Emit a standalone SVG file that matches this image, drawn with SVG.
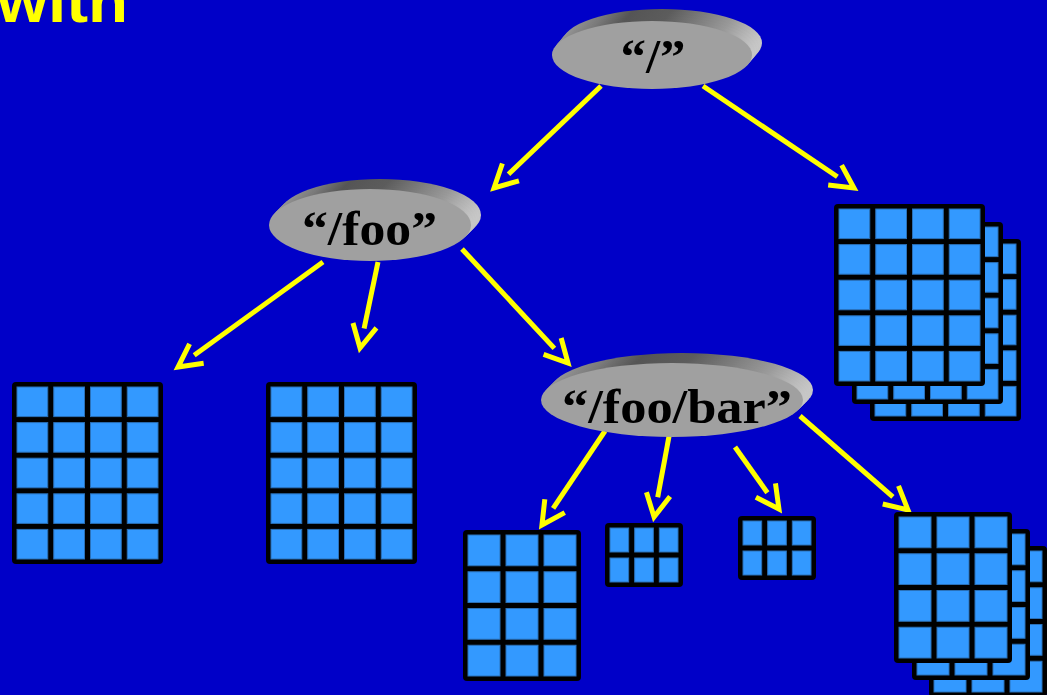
<svg xmlns="http://www.w3.org/2000/svg" xmlns:xlink="http://www.w3.org/1999/xlink" width="1047" height="695" viewBox="0 0 1047 695">
<style>
.frame{fill:#000000}
.cell{fill:#3399FF;stroke:#2a70b8;stroke-width:1}
.face{fill:#A0A0A0}
.rim{fill:url(#rimGrad)}
.lbl{font-family:"Liberation Serif","Times New Roman",serif;font-weight:bold;font-size:48px;fill:#000000;text-anchor:middle}
.conn{fill:none;stroke:#FFFF00;stroke-width:5;marker-end:url(#chev)}
.title{font-family:"Liberation Sans",Arial,sans-serif;font-weight:bold;font-size:62px;fill:#FFFF00}
</style>
<defs>
<linearGradient id="rimGrad" x1="0" y1="0" x2="1" y2="0">
<stop offset="0" stop-color="#9a9a9a"/>
<stop offset="0.2" stop-color="#7a7a7a"/>
<stop offset="0.35" stop-color="#555555"/>
<stop offset="0.55" stop-color="#5c5c5c"/>
<stop offset="0.7" stop-color="#7a7a7a"/>
<stop offset="0.85" stop-color="#999999"/>
<stop offset="1" stop-color="#c8c8c8"/>
</linearGradient>
<marker id="chev" markerUnits="userSpaceOnUse" markerWidth="60" markerHeight="60" viewBox="-15 -30 60 60" refX="0" refY="0" orient="auto" overflow="visible">
<path d="M -3 -12 L 20 0 L -3 12" fill="none" stroke="#FFFF00" stroke-width="5"/>
</marker>
<g id="gridA">
<rect class="frame" x="0" y="0" width="151" height="182" rx="4"/>
<rect class="cell" x="5" y="5" width="30.75" height="29.6"/><rect class="cell" x="41.75" y="5" width="30.75" height="29.6"/><rect class="cell" x="78.5" y="5" width="30.75" height="29.6"/><rect class="cell" x="115.25" y="5" width="30.75" height="29.6"/>
<rect class="cell" x="5" y="40.6" width="30.75" height="29.6"/><rect class="cell" x="41.75" y="40.6" width="30.75" height="29.6"/><rect class="cell" x="78.5" y="40.6" width="30.75" height="29.6"/><rect class="cell" x="115.25" y="40.6" width="30.75" height="29.6"/>
<rect class="cell" x="5" y="76.2" width="30.75" height="29.6"/><rect class="cell" x="41.75" y="76.2" width="30.75" height="29.6"/><rect class="cell" x="78.5" y="76.2" width="30.75" height="29.6"/><rect class="cell" x="115.25" y="76.2" width="30.75" height="29.6"/>
<rect class="cell" x="5" y="111.8" width="30.75" height="29.6"/><rect class="cell" x="41.75" y="111.8" width="30.75" height="29.6"/><rect class="cell" x="78.5" y="111.8" width="30.75" height="29.6"/><rect class="cell" x="115.25" y="111.8" width="30.75" height="29.6"/>
<rect class="cell" x="5" y="147.4" width="30.75" height="29.6"/><rect class="cell" x="41.75" y="147.4" width="30.75" height="29.6"/><rect class="cell" x="78.5" y="147.4" width="30.75" height="29.6"/><rect class="cell" x="115.25" y="147.4" width="30.75" height="29.6"/>
</g>
<g id="gridB">
<rect class="frame" x="0" y="0" width="118" height="151" rx="4"/>
<rect class="cell" x="5" y="5" width="32" height="30.75"/><rect class="cell" x="43" y="5" width="32" height="30.75"/><rect class="cell" x="81" y="5" width="32" height="30.75"/>
<rect class="cell" x="5" y="41.75" width="32" height="30.75"/><rect class="cell" x="43" y="41.75" width="32" height="30.75"/><rect class="cell" x="81" y="41.75" width="32" height="30.75"/>
<rect class="cell" x="5" y="78.5" width="32" height="30.75"/><rect class="cell" x="43" y="78.5" width="32" height="30.75"/><rect class="cell" x="81" y="78.5" width="32" height="30.75"/>
<rect class="cell" x="5" y="115.25" width="32" height="30.75"/><rect class="cell" x="43" y="115.25" width="32" height="30.75"/><rect class="cell" x="81" y="115.25" width="32" height="30.75"/>
</g>
<g id="gridC">
<rect class="frame" x="0" y="0" width="78" height="64" rx="4"/>
<rect class="cell" x="5" y="5" width="18.67" height="24"/><rect class="cell" x="29.67" y="5" width="18.67" height="24"/><rect class="cell" x="54.33" y="5" width="18.67" height="24"/>
<rect class="cell" x="5" y="35" width="18.67" height="24"/><rect class="cell" x="29.67" y="35" width="18.67" height="24"/><rect class="cell" x="54.33" y="35" width="18.67" height="24"/>
</g>
</defs>
<rect x="0" y="0" width="1047" height="695" fill="#0000C8"/>
<text class="title" x="-3" y="22" textLength="131" lengthAdjust="spacingAndGlyphs">with</text>

<g id="connectors">
<path class="conn" d="M 601 86 L 508.5 174.2"/>
<path class="conn" d="M 703 86 L 837.4 176.8"/>
<path class="conn" d="M 323 262 L 194.2 355.3"/>
<path class="conn" d="M 378 262 L 364.1 328.4"/>
<path class="conn" d="M 462 249 L 554.4 348.4"/>
<path class="conn" d="M 605 431 L 553.1 508.4"/>
<path class="conn" d="M 670 431 L 657.7 497.3"/>
<path class="conn" d="M 735 447 L 767.4 492.7"/>
<path class="conn" d="M 800 416 L 892.9 496.9"/>
</g>

<g id="node-root">
<ellipse class="rim" cx="662" cy="43" rx="100" ry="34"/>
<ellipse class="rim" cx="660" cy="45.4" rx="100" ry="34"/>
<ellipse class="rim" cx="658" cy="47.8" rx="100" ry="34"/>
<ellipse class="rim" cx="656" cy="50.2" rx="100" ry="34"/>
<ellipse class="rim" cx="654" cy="52.6" rx="100" ry="34"/>
<ellipse class="face" cx="652" cy="55" rx="100" ry="34"/>
<text class="lbl" x="653" y="73" textLength="65" lengthAdjust="spacingAndGlyphs">“/”</text>
</g>

<g id="node-foo">
<ellipse class="rim" cx="380" cy="215" rx="101" ry="36"/>
<ellipse class="rim" cx="378" cy="217" rx="101" ry="36"/>
<ellipse class="rim" cx="376" cy="219" rx="101" ry="36"/>
<ellipse class="rim" cx="374" cy="221" rx="101" ry="36"/>
<ellipse class="rim" cx="372" cy="223" rx="101" ry="36"/>
<ellipse class="face" cx="370" cy="225" rx="101" ry="36"/>
<text class="lbl" x="369.5" y="245" textLength="135" lengthAdjust="spacingAndGlyphs">“/foo”</text>
</g>

<g id="node-foobar">
<ellipse class="rim" cx="682" cy="390" rx="131" ry="37"/>
<ellipse class="rim" cx="680" cy="392" rx="131" ry="37"/>
<ellipse class="rim" cx="678" cy="394" rx="131" ry="37"/>
<ellipse class="rim" cx="676" cy="396" rx="131" ry="37"/>
<ellipse class="rim" cx="674" cy="398" rx="131" ry="37"/>
<ellipse class="face" cx="672" cy="400" rx="131" ry="37"/>
<text class="lbl" x="677" y="423" textLength="230" lengthAdjust="spacingAndGlyphs">“/foo/bar”</text>
</g>

<g id="file-root-stack">
<use xlink:href="#gridA" href="#gridA" x="870" y="239"/>
<use xlink:href="#gridA" href="#gridA" x="852" y="222"/>
<use xlink:href="#gridA" href="#gridA" x="834" y="204"/>
</g>
<g id="file-foo-1"><use xlink:href="#gridA" href="#gridA" x="12" y="382"/></g>
<g id="file-foo-2"><use xlink:href="#gridA" href="#gridA" x="266" y="382"/></g>
<g id="file-bar-1"><use xlink:href="#gridB" href="#gridB" x="463" y="530"/></g>
<g id="file-bar-2"><use xlink:href="#gridC" href="#gridC" x="605" y="523"/></g>
<g id="file-bar-3"><use xlink:href="#gridC" href="#gridC" x="738" y="516"/></g>
<g id="file-bar-stack">
<use xlink:href="#gridB" href="#gridB" x="929" y="546"/>
<use xlink:href="#gridB" href="#gridB" x="912" y="529"/>
<use xlink:href="#gridB" href="#gridB" x="894" y="512"/>
</g>
</svg>
